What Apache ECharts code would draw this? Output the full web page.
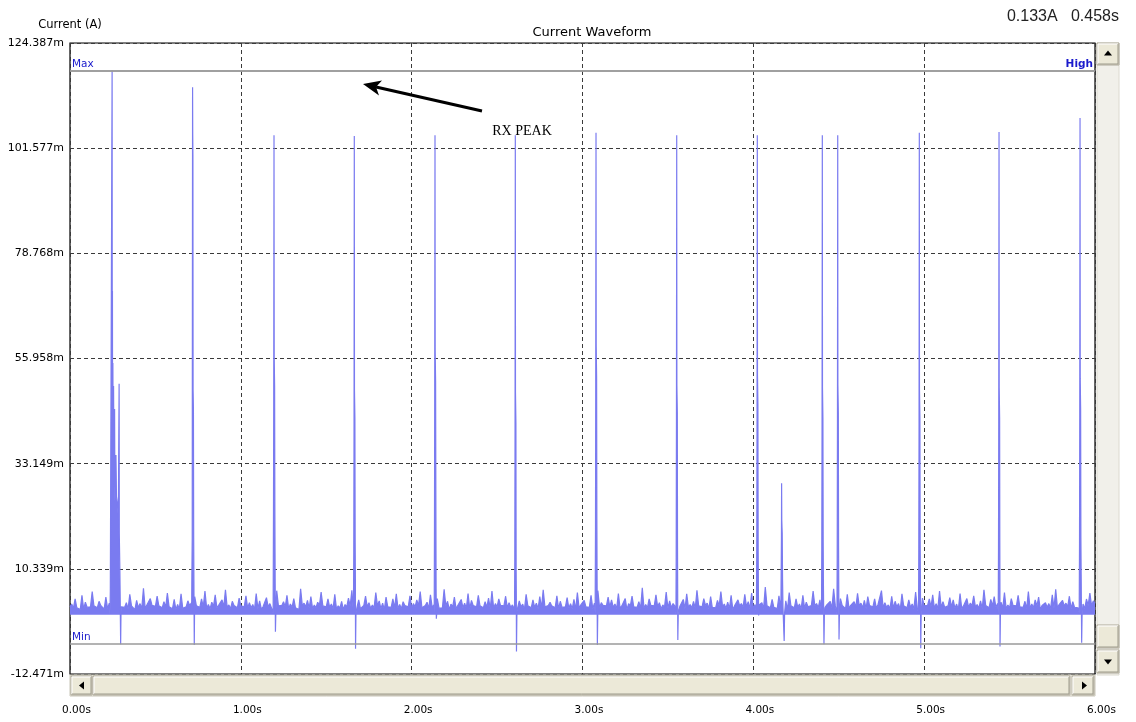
<!DOCTYPE html>
<html><head><meta charset="utf-8">
<script src="https://cdn.jsdelivr.net/npm/echarts@6/dist/echarts.min.js"></script>
<style>html,body{margin:0;padding:0;background:#fff;}#c{width:1136px;height:722px;}</style>
</head><body><div id="c"></div>
<script>
// ---- axis ranges and tick labels ----
const yMin = -12.471, yMax = 124.387;
const yTickLabels = ['-12.471m','10.339m','33.149m','55.958m','78.768m','101.577m','124.387m'];
const xTickLabels = ['0.00s','1.00s','2.00s','3.00s','4.00s','5.00s','6.00s'];
const maxLevel = 118.4;   // "Max" marker line (mA)
const minLevel = -6.0;    // "Min" marker line (mA)
const bandFloor = 0.4;    // lower edge of the idle-current band (mA)

// ---- idle current (mA), one sample per 10 ms, 0.00 s .. 6.00 s ----
const sampleStep = 0.01;
const noise = [
2.1,2.7,1.8,3.8,1.9,2.3,1.5,4.6,1.6,3.1, 2.0,2.0,2.1,5.4,2.3,2.6,1.9,3.3,2.4,2.2,
1.6,4.2,1.7,2.9,2.2,1.9,1.9,3.6,1.8,5.9, 2.1,2.4,2.0,3.0,1.6,4.8,2.3,2.1,1.5,3.5,
1.9,2.8,1.7,6.1,1.8,2.5,2.1,3.9,2.4,2.0, 2.2,4.4,2.3,2.7,1.9,3.2,2.0,5.1,2.1,2.3,
1.7,3.7,1.5,2.6,1.6,4.9,1.8,2.2,2.1,3.4, 2.4,2.9,1.9,4.3,2.3,2.0,2.0,3.8,2.1,5.5,
1.8,2.6,1.7,3.1,2.2,4.7,1.9,2.4,2.3,3.6, 2.1,5.8,2.0,2.5,1.7,3.3,2.4,2.8,1.9,4.0,
2.3,2.3,2.1,4.5,1.8,3.0,1.9,2.6,1.5,5.0, 1.7,3.4,1.6,2.1,2.0,4.1,2.1,2.8,1.8,3.7,
1.9,5.6,2.3,2.4,2.4,3.2,2.1,4.6,1.7,2.7, 2.0,3.9,1.9,2.2,1.5,6.0,2.3,2.9,2.1,3.5,
1.8,4.3,1.7,2.5,1.9,3.1,2.4,5.3,2.3,2.0, 2.1,3.8,2.0,2.7,1.7,4.8,1.6,2.3,1.8,3.3,
1.5,2.6,2.1,4.0,2.3,5.7,1.9,2.8,2.0,3.6, 1.7,2.1,2.4,4.4,2.1,3.0,1.8,2.5,1.9,5.2,
2.3,3.4,1.7,2.9,1.5,4.2,2.1,2.2,2.0,3.8, 1.9,4.9,1.8,2.6,1.7,3.2,2.4,2.4,2.1,4.5,
1.8,2.8,2.1,3.6,2.3,5.4,1.9,2.3,2.4,3.1, 1.7,4.7,2.0,2.5,2.1,3.9,1.8,2.0,1.9,5.9,
2.3,3.3,1.5,2.7,2.1,4.2,1.7,2.4,2.0,3.7, 1.9,2.9,1.8,5.0,1.7,3.5,2.4,2.2,2.1,4.6,
2.3,2.6,1.9,3.2,2.0,4.0,1.7,5.5,1.8,2.8, 2.1,3.8,2.4,2.3,2.3,4.4,1.9,3.0,2.0,2.5,
1.7,5.1,1.8,3.4,2.1,2.7,1.5,4.8,2.3,2.1, 1.9,3.6,2.0,2.9,1.7,4.3,1.8,5.8,2.1,2.4,
2.4,3.1,2.3,2.6,1.9,4.5,1.7,3.3,2.0,2.0, 2.1,4.1,1.8,2.8,1.7,3.7,1.5,5.2,1.9,2.5,
2.3,3.5,2.1,2.2,2.0,4.6,1.7,2.9,1.8,5.6, 1.9,3.0,2.4,2.4,2.3,4.2,2.1,3.6,2.0,2.7,
1.7,5.0,1.8,2.3,1.9,3.9,1.5,2.8,2.3,4.4, 2.1,2.5,2.0,3.2,1.7,6.2,1.8,2.6,1.9,3.8,
2.4,2.1,2.3,4.7,2.1,3.0,1.7,2.5,2.0,5.3, 1.8,3.4,1.9,2.8,2.3,4.0,2.4,2.2,2.1,3.7,
1.7,4.9,2.0,2.6,1.9,3.3,1.8,5.7,2.3,2.4, 2.1,3.9,2.4,2.9,1.7,4.3,1.9,2.0,2.0,3.5,
2.3,5.4,2.1,2.7,1.8,3.1,1.7,4.6,1.5,2.3, 1.9,3.6,2.3,2.8,2.0,4.8,2.1,3.2,1.7,5.1,
1.8,2.6,2.1,4.1,2.4,3.0,1.7,6.4,2.3,2.5, 1.9,3.7,2.0,2.2,1.7,4.5,1.8,2.9,2.1,3.4,
1.5,5.2,2.3,2.4,1.9,3.8,2.0,2.7,1.7,4.6, 1.8,3.1,2.1,2.3,2.4,5.5,2.3,2.8,1.9,3.6,
1.7,4.2,2.0,2.5,2.1,3.3,1.8,6.0,2.3,2.1, 1.9,3.9,2.4,2.7,1.7,4.8,1.8,2.4,2.1,3.2,
2.0,5.0,2.3,2.9,1.9,3.5,1.7,4.3,2.4,2.2, 2.1,3.8,1.8,2.6,2.3,5.6,1.9,3.0,2.0,2.5,
1.7,4.4,1.8,3.3,2.1,2.8,1.5,4.9,2.3,2.3, 1.9,3.6,2.0,2.7,1.7,5.3,1.8,3.1,2.1,4.0,
2.3,2.5,2.4,3.8,2.1,4.7,1.8,2.8,1.7,5.5, 1.9,3.2,2.0,2.4,2.3,4.1,2.1,3.6,1.8,2.7,
1.5,5.0,1.7,2.3,1.9,3.9,2.0,2.9,2.3,4.5, 2.1,2.6,1.8,3.4,1.7,5.8,2.4,2.2,1.9,3.7,
2.3,4.3,2.0,2.8,2.1,3.1,1.8,5.2,1.7,2.5, 1.9,3.9,2.4,2.6,2.3,4.6,2.1,2.3,2.0,3.3,
1.7,5.4,1.8,2.7,1.9,3.6,2.3,4.2,1.5,2.4, 2.1,3.0,2.0,2.8,1.7,4.7,1.8,5.9,1.9,2.6,
2.4,3.5,2.3,2.9,2.1,4.4,1.7,3.2,2.0,2.2, 1.9,4.0,1.8,2.7,1.7,3.8,2.4,5.1,2.3,3.4,
2.8
];

// ---- current pulses: [time s, current mA] ----
const spikeTraces = [
 [[0.234,0.6],[0.236,5.5],[0.245,5.3],[0.2465,118.4],[0.2475,30],[0.2485,70.6],[0.2495,27],[0.251,55],[0.253,30],[0.255,50],[0.258,28],[0.261,45],[0.263,25],[0.266,28],[0.269,35],[0.272,26],[0.276,25],[0.280,23],[0.283,21],[0.2875,50.5],[0.2885,18],[0.292,10],[0.2965,-6.0],[0.2985,0.8]],
 [[0.712,0.8],[0.7135,9],[0.7155,17],[0.716,45],[0.7175,114.8],[0.7185,104.4],[0.7195,100],[0.7205,49],[0.7225,45],[0.724,17],[0.726,3],[0.7275,-6.2],[0.729,0.9]],
 [[1.189,0.7],[1.1912,23],[1.1927,48],[1.1942,104.4],[1.1952,56.5],[1.1977,50],[1.1992,23],[1.201,7],[1.2025,-3.3],[1.205,0.9]],
 [[1.659,0.6],[1.6612,14],[1.6627,42],[1.6642,104.2],[1.6652,49.1],[1.6677,43],[1.6692,16],[1.6705,8],[1.6715,-7.0],[1.674,0.8]],
 [[2.132,0.7],[2.1336,20],[2.1351,50],[2.1366,104.4],[2.1376,57.6],[2.1401,51],[2.1416,26],[2.143,6],[2.1445,-0.5],[2.147,1.0]],
 [[2.602,0.6],[2.6037,12],[2.6052,41],[2.6067,104.4],[2.6077,48.7],[2.6102,42],[2.6115,10],[2.6125,5],[2.6135,-7.6],[2.616,0.9]],
 [[3.074,0.7],[3.0761,19],[3.0776,51],[3.0791,104.9],[3.0801,58.7],[3.0826,52],[3.0841,21],[3.0855,7],[3.087,-6.2],[3.0895,0.8]],
 [[3.547,0.6],[3.5485,13],[3.55,43],[3.5515,104.4],[3.5525,50.2],[3.555,44],[3.5562,15],[3.557,7],[3.558,-5.1],[3.5605,0.9]],
 [[4.018,0.7],[4.0203,16],[4.0218,45],[4.0233,104.4],[4.0243,52.4],[4.0268,46],[4.0283,14],[4.0295,6],[4.031,0.2],[4.0335,2.5]],
 [[4.161,0.6],[4.1635,12],[4.1645,17],[4.1655,28.9],[4.1665,21],[4.169,18],[4.171,8],[4.1735,2],[4.1805,-5.3],[4.183,0.8]],
 [[4.399,0.7],[4.4008,15],[4.4023,42],[4.4038,104.4],[4.4048,49.6],[4.4073,43],[4.4088,16],[4.410,8],[4.4135,-6.0],[4.416,0.9]],
 [[4.4895,0.6],[4.491,13],[4.4925,43],[4.494,104.4],[4.495,50.2],[4.4975,44],[4.499,15],[4.500,7],[4.5016,-5.0],[4.504,0.9]],
 [[4.967,0.7],[4.9686,14],[4.9701,42],[4.9716,104.9],[4.9726,49.1],[4.9751,43],[4.9766,16],[4.978,8],[4.980,-6.9],[4.9825,0.8]],
 [[5.4335,0.6],[5.4352,15],[5.4367,42],[5.4382,105.1],[5.4392,49.6],[5.4417,43],[5.4427,17],[5.4433,9],[5.444,-6.5],[5.4465,0.9]],
 [[5.9075,0.7],[5.9094,16],[5.9109,44],[5.9124,108.1],[5.9134,51.7],[5.9159,45],[5.9174,17],[5.919,9],[5.922,-5.7],[5.9245,0.8]]
];

// ---- merge idle samples and pulses into one trace ----
const windows = spikeTraces.map(tr => [tr[0][0], tr[tr.length - 1][0]]);
const trace = [];
noise.forEach((v, i) => {
  const t = +(i * sampleStep).toFixed(3);
  if (!windows.some(w => t >= w[0] && t <= w[1])) trace.push([t, v]);
});
spikeTraces.forEach(tr => tr.forEach(p => trace.push(p)));
trace.sort((a, b) => a[0] - b[0]);

const yStep = (yMax - yMin) / 6;
const chart = echarts.init(document.getElementById('c'), null, {renderer: 'canvas'});

const btnFill = '#ece9d8';
function bevel(x, y, w, h) {
  return [
    {type: 'rect', shape: {x: x, y: y, width: w, height: h}, style: {fill: btnFill, stroke: '#aca899', lineWidth: 1}, z: 20},
    {type: 'polyline', shape: {points: [[x + 1, y + h - 1], [x + 1, y + 1], [x + w - 1, y + 1]]}, style: {stroke: '#ffffff', lineWidth: 1, fill: null}, z: 21},
    {type: 'polyline', shape: {points: [[x + 1, y + h - 1], [x + w - 1, y + h - 1], [x + w - 1, y + 1]]}, style: {stroke: '#9d9a8c', lineWidth: 1, fill: null}, z: 21}
  ];
}

const graphics = [].concat(
  [{type: 'rect', shape: {x: 70, y: 675, width: 1025, height: 21}, style: {fill: '#f3f1e8', stroke: '#c9c6b8'}, z: 19}],
  bevel(71, 676, 21, 19),
  bevel(93, 676, 977, 19),
  bevel(1072, 676, 22, 19),
  [{type: 'polygon', shape: {points: [[79, 685.5], [84, 681.5], [84, 689.5]]}, style: {fill: '#000'}, z: 22},
   {type: 'polygon', shape: {points: [[1087, 685.5], [1082, 681.5], [1082, 689.5]]}, style: {fill: '#000'}, z: 22}],
  [{type: 'rect', shape: {x: 1097, y: 43, width: 22, height: 632}, style: {fill: '#f1f0ea', stroke: '#dcdad0'}, z: 19}],
  bevel(1097, 43, 22, 22),
  bevel(1097, 625, 22, 23),
  bevel(1097, 650, 22, 23),
  [{type: 'polygon', shape: {points: [[1108, 50.5], [1104, 55.5], [1112, 55.5]]}, style: {fill: '#000'}, z: 22},
   {type: 'polygon', shape: {points: [[1108, 664.5], [1104, 659.5], [1112, 659.5]]}, style: {fill: '#000'}, z: 22}],
  [{type: 'text', x: 592, y: 33, style: {text: 'Current Waveform', font: '13px "DejaVu Sans"', fill: '#000', textAlign: 'center', textVerticalAlign: 'middle'}, z: 10},
   {type: 'text', x: 70, y: 25, style: {text: 'Current (A)', font: '11.5px "DejaVu Sans"', fill: '#000', textAlign: 'center', textVerticalAlign: 'middle'}, z: 10},
   {type: 'text', x: 1119, y: 17, style: {text: '0.133A   0.458s', font: '16px "Liberation Sans"', fill: '#222', textAlign: 'right', textVerticalAlign: 'middle'}, z: 10},
   {type: 'text', x: 522, y: 131, style: {text: 'RX PEAK', font: '14px "Liberation Serif"', fill: '#000', textAlign: 'center', textVerticalAlign: 'middle'}, z: 10},
   {type: 'line', shape: {x1: 482, y1: 111, x2: 376, y2: 87}, style: {stroke: '#000', lineWidth: 3}, z: 10},
   {type: 'polygon', shape: {points: [[363, 84], [382, 80.5], [376, 87], [379, 95.5]]}, style: {fill: '#000'}, z: 10}]
);

chart.setOption({
  animation: false,
  backgroundColor: '#fff',
  grid: {left: 70, right: 41, top: 43, bottom: 48, show: true, borderColor: '#000', borderWidth: 1.2, backgroundColor: '#fff'},
  xAxis: {
    type: 'value', min: 0, max: 6, interval: 1,
    axisLine: {show: false}, axisTick: {show: false},
    splitLine: {show: true, lineStyle: {color: '#3a3a3a', type: [4, 3], width: 1}},
    axisLabel: {margin: 31, fontSize: 10.5, fontFamily: 'DejaVu Sans', color: '#000', padding: [0, 0, 0, 13],
      formatter: v => xTickLabels[Math.round(v)]}
  },
  yAxis: {
    type: 'value', min: yMin, max: yMax, interval: yStep,
    axisLine: {show: false}, axisTick: {show: false},
    splitLine: {show: true, lineStyle: {color: '#3a3a3a', type: [4, 3], width: 1}},
    axisLabel: {margin: 6, fontSize: 11, fontFamily: 'DejaVu Sans', color: '#000',
      formatter: v => yTickLabels[Math.round((v - yMin) / yStep)]}
  },
  series: [{
    type: 'line', data: trace, showSymbol: false, symbol: 'none',
    lineStyle: {color: '#7a7bf0', width: 1.2}, itemStyle: {color: '#7a7bf0'},
    areaStyle: {color: '#7a7bf0', opacity: 1, origin: bandFloor},
    silent: true, z: 3,
    markLine: {
      silent: true, symbol: 'none', animation: false,
      lineStyle: {color: '#9a9a9a', width: 1.5, type: 'solid'},
      label: {color: '#1a1acc', fontSize: 10.5, fontFamily: 'DejaVu Sans'},
      data: [
        {yAxis: maxLevel, label: {formatter: 'Max', position: 'insideStartTop', distance: [2, 1]}},
        {yAxis: maxLevel, label: {formatter: 'High', position: 'insideEndTop', fontWeight: 'bold', distance: [2, 1]}},
        {yAxis: minLevel, label: {formatter: 'Min', position: 'insideStartTop', distance: [2, 1]}}
      ]
    }
  }],
  graphic: graphics
});
</script>
</body></html>
